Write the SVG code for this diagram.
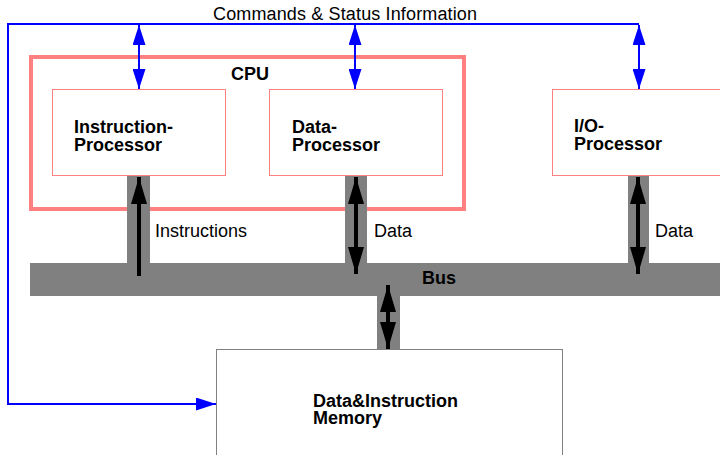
<svg xmlns="http://www.w3.org/2000/svg" width="720" height="455" viewBox="0 0 720 455">
  <style>
    text { font-family: "Liberation Sans", Arial, sans-serif; font-size: 18px; fill: #000; }
    .bold { font-weight: bold; }
    .box { fill: #fff; stroke: #ff8080; stroke-width: 1; }
    .cpu { fill: none; stroke: #ff8080; stroke-width: 4; }
    .mem { fill: #fff; stroke: #808080; stroke-width: 1; }
    .bus { fill: #808080; }
    .ctl { fill: none; stroke: #0000ff; stroke-width: 2; }
    .dat { fill: none; stroke: #000; stroke-width: 4; }
  </style>
  <defs>
    <marker id="blueHead" markerUnits="userSpaceOnUse" markerWidth="20" markerHeight="13" refX="20" refY="6.5" orient="auto-start-reverse">
      <path d="M0,0 L20,6.5 L0,13 z" fill="#0000ff"/>
    </marker>
    <marker id="blackHead" markerUnits="userSpaceOnUse" markerWidth="27" markerHeight="16" refX="27" refY="8" orient="auto-start-reverse">
      <path d="M0,0 L27,8 L0,16 z" fill="#000"/>
    </marker>
  </defs>

  <rect width="720" height="455" fill="#fff"/>

  <!-- CPU enclosure -->
  <g id="cpu">
    <rect class="cpu" x="31" y="57" width="433" height="152"/>
    <text class="bold" x="231" y="80">CPU</text>
  </g>

  <!-- bus and its taps -->
  <g id="bus">
    <rect class="bus" x="30" y="263" width="690" height="33"/>
    <rect class="bus" x="127" y="176" width="23" height="87"/>
    <rect class="bus" x="345" y="176" width="22" height="87"/>
    <rect class="bus" x="628" y="176" width="21" height="87"/>
    <rect class="bus" x="377" y="296" width="23" height="53"/>
    <text class="bold" x="422" y="284">Bus</text>
  </g>

  <g id="instruction-processor">
    <rect class="box" x="52.5" y="89.5" width="173" height="86"/>
    <text class="bold" x="74" y="133">Instruction-<tspan x="74" y="151">Processor</tspan></text>
  </g>

  <g id="data-processor">
    <rect class="box" x="269.5" y="89.5" width="173" height="86"/>
    <text class="bold" x="292" y="133">Data-<tspan x="292" y="151">Processor</tspan></text>
  </g>

  <g id="io-processor">
    <rect class="box" x="552.5" y="89.5" width="180" height="86"/>
    <text class="bold" x="574" y="132">I/O-<tspan x="574" y="150">Processor</tspan></text>
  </g>

  <g id="memory">
    <rect class="mem" x="216.5" y="349.5" width="346" height="120"/>
    <text class="bold" x="313" y="407">Data&amp;Instruction<tspan x="313" y="424">Memory</tspan></text>
  </g>

  <g id="connectors">
    <!-- control lines -->
    <polyline class="ctl" points="639,24 8,24 8,404 216,404" marker-end="url(#blueHead)"/>
    <line class="ctl" x1="139" y1="25" x2="139" y2="89" marker-start="url(#blueHead)" marker-end="url(#blueHead)"/>
    <line class="ctl" x1="355" y1="25" x2="355" y2="89" marker-start="url(#blueHead)" marker-end="url(#blueHead)"/>
    <line class="ctl" x1="639" y1="25" x2="639" y2="89" marker-start="url(#blueHead)" marker-end="url(#blueHead)"/>
    <text x="213" y="20" textLength="264">Commands &amp; Status Information</text>

    <!-- data paths -->
    <line class="dat" x1="139" y1="276" x2="139" y2="177" marker-end="url(#blackHead)"/>
    <line class="dat" x1="356" y1="177" x2="356" y2="274" marker-start="url(#blackHead)" marker-end="url(#blackHead)"/>
    <line class="dat" x1="638" y1="177" x2="638" y2="274" marker-start="url(#blackHead)" marker-end="url(#blackHead)"/>
    <line class="dat" x1="388" y1="285" x2="388" y2="349" marker-start="url(#blackHead)" marker-end="url(#blackHead)"/>
    <text x="155" y="237">Instructions</text>
    <text x="374" y="237">Data</text>
    <text x="655" y="237">Data</text>
  </g>
</svg>
